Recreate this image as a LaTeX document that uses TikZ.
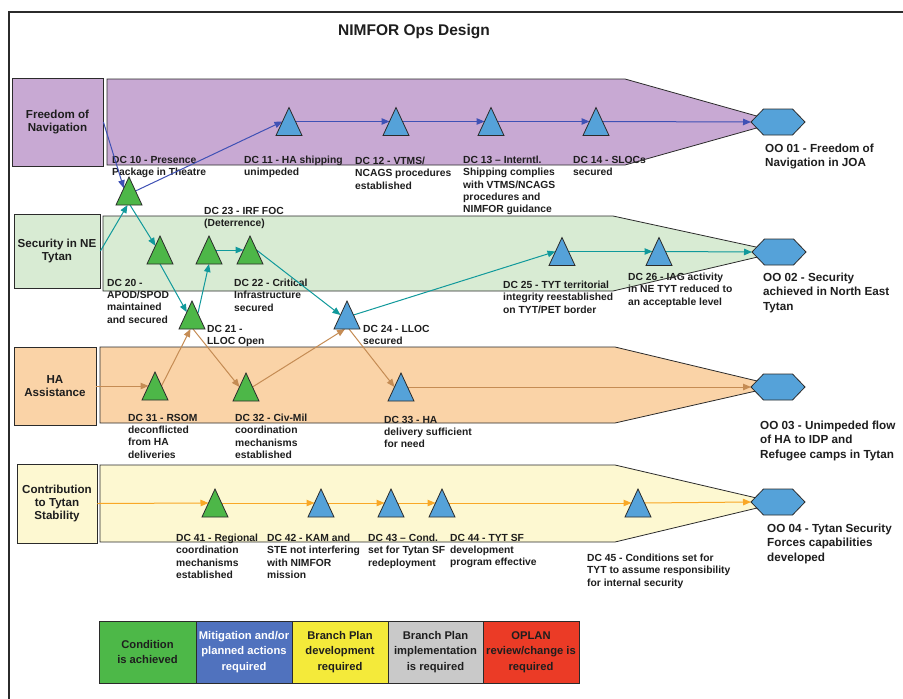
\documentclass[tikz,border=0pt]{standalone}
\usepackage{fontspec}
\setmainfont{Liberation Sans}
\usetikzlibrary{arrows.meta,calc}

\definecolor{fonfill}{HTML}{C8A9D3}
\definecolor{secfill}{HTML}{D8EBD3}
\definecolor{hafill}{HTML}{FAD3A7}
\definecolor{confill}{HTML}{FDF8D1}
\definecolor{okgreen}{HTML}{4DB748}
\definecolor{skyblue}{HTML}{55A2D9}
\definecolor{navblue}{HTML}{3F51B5}
\definecolor{tealline}{HTML}{10999B}
\definecolor{tanline}{HTML}{C58C54}
\definecolor{amberline}{HTML}{F9A826}
\definecolor{edge}{HTML}{2B2B2B}
\definecolor{txt}{HTML}{1E1E1E}
\definecolor{lgreen}{HTML}{4DB848}
\definecolor{lblue}{HTML}{5072BE}
\definecolor{lyellow}{HTML}{F4EA3A}
\definecolor{lgray}{HTML}{C9C9C9}
\definecolor{lred}{HTML}{EB3B26}

\tikzset{
  lbl/.style={font=\fontsize{10.3}{12.3}\selectfont\bfseries, text=txt, align=left,
              anchor=north west, inner sep=0pt},
  oolbl/.style={font=\fontsize{11.7}{14.3}\selectfont\bfseries, text=txt, align=left,
                anchor=north west, inner sep=0pt},
  hdr/.style={draw=edge, line width=0.8pt, font=\fontsize{11.6}{13.4}\selectfont\bfseries,
              text=txt, align=center, inner sep=0pt},
  legbox/.style={draw=edge, line width=0.8pt, font=\fontsize{11.2}{15.5}\selectfont\bfseries,
                 align=center, inner sep=0pt, minimum height=62pt},
  trinode/.style={minimum width=26pt, minimum height=28pt, inner sep=0pt, outer sep=0pt},
  hexnode/.style={minimum width=54pt, minimum height=26pt, inner sep=0pt, outer sep=0pt},
  bandline/.style={draw=edge, line width=0.8pt},
  symline/.style={draw=edge, line width=0.8pt, line join=miter},
  flow/.style={line width=1pt, -{Triangle[length=8pt,width=6.5pt]}},
}

\begin{document}
\begin{tikzpicture}[x=1pt,y=-1pt]
\useasboundingbox (0,0) rectangle (903,699);
\fill[white] (0,0) rectangle (903,699);

% page frame
\draw[edge, line width=2pt] (9,699) -- (9,12) -- (903,12);

\node[font=\fontsize{15.5}{18}\selectfont\bfseries, text=txt, anchor=base] (title) at (414,35) {NIMFOR Ops Design};

% band fills
\fill[fonfill] (107,79) -- (625,79) -- (778,122) -- (625,165) -- (107,165) -- cycle;
\fill[secfill] (103,216) -- (613,216) -- (779,252) -- (613,291) -- (103,291) -- cycle;
\fill[hafill]  (100,347) -- (615,347) -- (778,386) -- (615,423) -- (100,423) -- cycle;
\fill[confill] (100,465) -- (615,465) -- (778,503) -- (615,542) -- (100,542) -- cycle;

% line-of-operation headers
\node[hdr, fill=fonfill, minimum width=91pt, minimum height=88pt] (fon) at (57.5,122) {Freedom of\\Navigation};
\node[hdr, fill=secfill, minimum width=86pt, minimum height=74pt] (sec) at (57,251) {Security in NE\\Tytan};
\node[hdr, fill=hafill,  minimum width=82pt, minimum height=78pt] (ha)  at (55,386) {HA\\Assistance};
\node[hdr, fill=confill, minimum width=80pt, minimum height=79pt] (con) at (57,503.5) {Contribution\\to Tytan\\Stability};

% decisive condition labels
\node[lbl] (t10) at (112,156) {DC 10 - Presence\\Package in Theatre};
\node[lbl] (t11) at (244,156) {DC 11 - HA shipping\\unimpeded};
\node[lbl] (t12) at (355,157) {DC 12 - VTMS/\\NCAGS procedures\\established};
\node[lbl] (t13) at (463,156) {DC 13 -- Interntl.\\Shipping complies\\with VTMS/NCAGS\\procedures and\\NIMFOR guidance};
\node[lbl] (t14) at (573,156) {DC 14 - SLOCs\\secured};

\node[lbl] (t23) at (204,207) {DC 23 - IRF FOC\\(Deterrence)};
\node[lbl] (t20) at (107,279) {DC 20 -\\APOD/SPOD\\maintained\\and secured};
\node[lbl] (t22) at (234,279) {DC 22 - Critical\\Infrastructure\\secured};
\node[lbl] (t21) at (207,325) {DC 21 -\\LLOC Open};
\node[lbl] (t24) at (363,325) {DC 24 - LLOC\\secured};
\node[lbl] (t25) at (503,281) {DC 25 - TYT territorial\\integrity reestablished\\on TYT/PET border};
\node[lbl] (t26) at (628,273) {DC 26 - IAG activity\\in NE TYT reduced to\\an acceptable level};

\node[lbl] (t31) at (128,414) {DC 31 - RSOM\\deconflicted\\from HA\\deliveries};
\node[lbl] (t32) at (235,414) {DC 32 - Civ-Mil\\coordination\\mechanisms\\established};
\node[lbl] (t33) at (384,416) {DC 33 - HA\\delivery sufficient\\for need};

\node[lbl] (t41) at (176,534) {DC 41 - Regional\\coordination\\mechanisms\\established};
\node[lbl] (t42) at (267,534) {DC 42 - KAM and\\STE not interfering\\with NIMFOR\\mission};
\node[lbl] (t43) at (368,534) {DC 43 -- Cond.\\set for Tytan SF\\redeployment};
\node[lbl] (t44) at (450,534) {DC 44 - TYT SF\\development\\program effective};
\node[lbl] (t45) at (587,554) {DC 45 - Conditions set for\\TYT to assume responsibility\\for internal security};

% operational objective labels
\node[oolbl] (to1) at (765,144) {OO 01 - Freedom of\\Navigation in JOA};
\node[oolbl] (to2) at (763,273) {OO 02 - Security\\achieved in North East\\Tytan};
\node[oolbl] (to3) at (760,421) {OO 03 - Unimpeded flow\\of HA to IDP and\\Refugee camps in Tytan};
\node[oolbl] (to4) at (767,524) {OO 04 - Tytan Security\\Forces capabilities\\developed};

% band outlines
\draw[bandline] (107,79) -- (625,79) -- (778,122) -- (625,165) -- (107,165) -- cycle;
\draw[bandline] (103,216) -- (613,216) -- (779,252) -- (613,291) -- (103,291) -- cycle;
\draw[bandline] (100,347) -- (615,347) -- (778,386) -- (615,423) -- (100,423) -- cycle;
\draw[bandline] (100,465) -- (615,465) -- (778,503) -- (615,542) -- (100,542) -- cycle;

% decisive condition markers
\node[trinode] (dc10) at (129,191) {};
\node[trinode] (dc11) at (289,121.5) {};
\node[trinode] (dc12) at (396,121.5) {};
\node[trinode] (dc13) at (491,121.5) {};
\node[trinode] (dc14) at (596,121.5) {};
\node[trinode] (dc20) at (160,250) {};
\node[trinode] (dc21) at (192,315) {};
\node[trinode] (dc23) at (209,250) {};
\node[trinode] (dc22) at (250,250) {};
\node[trinode] (dc24) at (347,315) {};
\node[trinode] (dc25) at (562,251.5) {};
\node[trinode] (dc26) at (659,251.5) {};
\node[trinode] (dc31) at (155,386) {};
\node[trinode] (dc32) at (246,387) {};
\node[trinode] (dc33) at (401,387) {};
\node[trinode] (dc41) at (215,503) {};
\node[trinode] (dc42) at (321,503) {};
\node[trinode] (dc43) at (391,503) {};
\node[trinode] (dc44) at (442,503) {};
\node[trinode] (dc45) at (638,503) {};

% operational objectives
\node[hexnode] (oo1) at (778,122) {};
\node[hexnode] (oo2) at (779,252) {};
\node[hexnode] (oo3) at (778,387) {};
\node[hexnode] (oo4) at (778,502) {};

% edge midpoints of each triangle
\foreach \n in {dc10,dc11,dc12,dc13,dc14,dc20,dc21,dc22,dc23,dc24,dc25,dc26,
                dc31,dc32,dc33,dc41,dc42,dc43,dc44,dc45}{
  \coordinate (\n-l) at ($(\n.south west)!.5!(\n.north)$);
  \coordinate (\n-r) at ($(\n.south east)!.5!(\n.north)$);
}

% Freedom of Navigation
\draw[flow, navblue] (fon.east) -- ($(dc10.south west)!.6!(dc10.north)$);
\draw[flow, navblue] (dc10-r) -- (dc11-l);
\draw[flow, navblue] (dc11-r) -- (dc12-l);
\draw[flow, navblue] (dc12-r) -- (dc13-l);
\draw[flow, navblue] (dc13-r) -- (dc14-l);
\draw[flow, navblue] (dc14-r) -- (oo1.west);

% Security in NE Tytan
\draw[flow, tealline] (sec.east) -- ($(dc10.south)+(-1.5,0)$);
\draw[flow, tealline] ($(dc10.south)+(1,0)$) -- ($(dc20.south west)!.65!(dc20.north)$);
\draw[flow, tealline] (dc20.south) -- ($(dc21.south west)!.6!(dc21.north)$);
\draw[flow, tealline] ($(dc21.south east)!.55!(dc21.north)$) -- (dc23.south);
\draw[flow, tealline] (dc23-r) -- (dc22-l);
\draw[flow, tealline] (dc22-r) -- (dc24-l);
\draw[flow, tealline] (dc24-r) -- (dc25-l);
\draw[flow, tealline] (dc25-r) -- (dc26-l);
\draw[flow, tealline] (dc26-r) -- (oo2.west);

% HA Assistance
\draw[flow, tanline] (ha.east) -- (dc31-l);
\draw[flow, tanline] (dc31-r) -- ($(dc21.south)+(-1.5,0)$);
\draw[flow, tanline] ($(dc21.south)+(1,0)$) -- (dc32-l);
\draw[flow, tanline] (dc32-r) -- ($(dc24.south)+(-2,0)$);
\draw[flow, tanline] ($(dc24.south)+(2,0)$) -- (dc33-l);
\draw[flow, tanline] (dc33-r) -- (oo3.west);

% Contribution to Tytan Stability
\draw[flow, amberline] (con.east) -- (dc41-l);
\draw[flow, amberline] (dc41-r) -- (dc42-l);
\draw[flow, amberline] (dc42-r) -- (dc43-l);
\draw[flow, amberline] (dc43-r) -- (dc44-l);
\draw[flow, amberline] (dc44-r) -- (dc45-l);
\draw[flow, amberline] (dc45-r) -- (oo4.west);

% triangle symbols
\foreach \n in {dc10,dc20,dc21,dc22,dc23,dc31,dc32,dc41}
  \filldraw[symline, fill=okgreen] (\n.south west) -- (\n.north) -- (\n.south east) -- cycle;
\foreach \n in {dc11,dc12,dc13,dc14,dc24,dc25,dc26,dc33,dc42,dc43,dc44,dc45}
  \filldraw[symline, fill=skyblue] (\n.south west) -- (\n.north) -- (\n.south east) -- cycle;

% hexagon symbols
\foreach \n in {oo1,oo2,oo3,oo4}
  \filldraw[symline, fill=skyblue] (\n.west) -- ($(\n.north west)+(12.5,0)$)
    -- ($(\n.north east)+(-12.5,0)$) -- (\n.east)
    -- ($(\n.south east)+(-12.5,0)$) -- ($(\n.south west)+(12.5,0)$) -- cycle;

% status legend
\node[legbox, fill=lgreen,  text=txt,   minimum width=97pt] (lg1) at (147.5,652) {Condition\\is achieved};
\node[legbox, fill=lblue,   text=white, minimum width=96pt] (lg2) at (244,652) {Mitigation and/or\\planned actions\\required};
\node[legbox, fill=lyellow, text=txt,   minimum width=96pt] (lg3) at (340,652) {Branch Plan\\development\\required};
\node[legbox, fill=lgray,   text=txt,   minimum width=95pt] (lg4) at (435.5,652) {Branch Plan\\implementation\\is required};
\node[legbox, fill=lred,    text=txt,   minimum width=96pt] (lg5) at (531,652) {OPLAN\\review/change is\\required};
\end{tikzpicture}
\end{document}
